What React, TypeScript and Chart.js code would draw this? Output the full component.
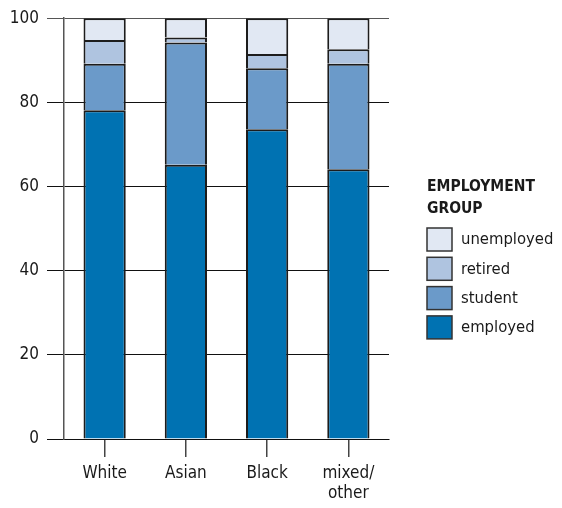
import React, { useEffect, useRef } from "react";
import { Chart, registerables } from "chart.js";

Chart.register(...registerables);

const categories: (string | string[])[] = ["White", "Asian", "Black", ["mixed/", "other"]];
const employed = [78.1, 65.2, 73.6, 64.1];
const student = [11.1, 29.0, 14.5, 25.1];
const retired = [5.6, 1.2, 3.4, 3.4];
const unemployed = [5.2, 4.6, 8.5, 7.4];
const yTicks = [0, 20, 40, 60, 80, 100];
const legendTitle = ["EMPLOYMENT", "GROUP"];

const FONT = "'Liberation Sans Narrow', 'DejaVu Sans Condensed', 'Roboto Condensed', 'Liberation Sans', sans-serif";
const TEXT = "#1a1a1a";

const legendPlugin = {
  id: "customLegend",
  afterDraw(chart: any) {
    const ctx = chart.ctx;
    ctx.save();
    ctx.fillStyle = TEXT;
    ctx.textAlign = "left";
    ctx.textBaseline = "alphabetic";
    ctx.font = `bold 15.5px ${FONT}`;
    legendTitle.forEach((t, i) => ctx.fillText(t, 427, 191 + i * 22));
    const ds = [...chart.data.datasets].reverse();
    ctx.font = `16.5px ${FONT}`;
    ds.forEach((d: any, i: number) => {
      const y = 228 + i * 29.3;
      ctx.fillStyle = d.backgroundColor;
      ctx.fillRect(427, y, 25, 23);
      ctx.strokeStyle = "#333";
      ctx.lineWidth = 1.5;
      ctx.strokeRect(427, y, 25, 23);
      ctx.fillStyle = TEXT;
      ctx.textBaseline = "middle";
      ctx.fillText(d.label, 461, y + 12);
    });
    ctx.restore();
  },
};

export default function App() {
  const ref = useRef<HTMLCanvasElement>(null);
  useEffect(() => {
    if (!ref.current) return;
    const mk = (label: string, data: number[], color: string) => ({
      label,
      data,
      backgroundColor: color,
      borderColor: "#1c1c1c",
      borderWidth: { top: 2, bottom: 0, left: 2, right: 2 },
      borderSkipped: false,
      barPercentage: 0.52,
      categoryPercentage: 1,
    });
    const chart = new Chart(ref.current, {
      type: "bar",
      data: {
        labels: categories,
        datasets: [
          mk("employed", employed, "#0072B2"),
          mk("student", student, "#6B9AC9"),
          mk("retired", retired, "#AFC4E0"),
          mk("unemployed", unemployed, "#E1E8F3"),
        ],
      },
      options: {
        animation: false,
        responsive: false,
        layout: { padding: { top: 18, right: 173, left: 0, bottom: 0 } },
        plugins: { legend: { display: false }, tooltip: { enabled: false } },
        scales: {
          x: {
            stacked: true,
            afterFit: (s: any) => { s.height = 69; },
            grid: { display: true, drawOnChartArea: false, drawTicks: true, tickLength: 18, offset: false, color: "#444", lineWidth: 1.5 },
            border: { display: true, color: "#111", width: 1 },
            ticks: { color: TEXT, font: { family: FONT, size: 17 }, padding: 6, maxRotation: 0 },
          },
          y: {
            stacked: true,
            min: 0,
            max: 100,
            afterFit: (s: any) => { s.width = 64; },
            afterBuildTicks: (s: any) => { s.ticks = yTicks.map((v) => ({ value: v })); },
            grid: { color: (c: any) => (c.tick && c.tick.value === 100 ? "#555" : "#111"), lineWidth: 1, tickLength: 17 },
            border: { display: true, color: "#555", width: 1.5 },
            ticks: { color: TEXT, font: { family: FONT, size: 17 }, padding: 8 },
          },
        },
      },
      plugins: [legendPlugin],
    });
    return () => chart.destroy();
  }, []);
  return (
    <div style={{ position: "fixed", left: 0, top: 0, width: 562, height: 508, background: "#fff" }}>
      <canvas ref={ref} width={562} height={508} style={{ width: 562, height: 508 }} />
    </div>
  );
}
